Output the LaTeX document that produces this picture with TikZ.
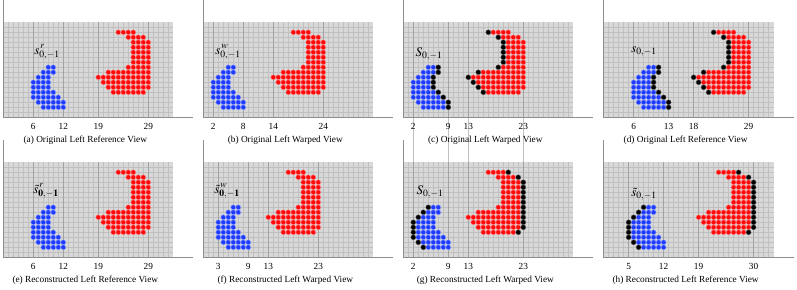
\documentclass[tikz,border=0pt]{standalone}
\usepackage{mathptmx}
\usepackage{fontspec}
\setmainfont{Liberation Serif}
\definecolor{dotblue}{HTML}{1E3CFF}
\definecolor{dotred}{HTML}{FF0A0A}
\definecolor{cellgray}{HTML}{D8D8D8}
\definecolor{gridgray}{HTML}{C0C0C0}
\definecolor{majorgray}{HTML}{A2A2A2}
\definecolor{axisgray}{HTML}{8E8E8E}

\tikzset{
  minorline/.style={gridgray,line width=.3pt},
  majorline/.style={majorgray,line width=.45pt},
  axisline/.style={axisgray,line width=.5pt},
  bluedot/.style={fill=dotblue,draw=white!55!dotblue,line width=.35pt},
  reddot/.style={fill=dotred,draw=white!55!dotred,line width=.35pt},
  holedot/.style={fill=black,draw=white!35!black,line width=.35pt},
  ticklbl/.style={font=\fontsize{9.3}{11}\selectfont,inner sep=0pt},
  caplbl/.style={font=\fontsize{9.3}{11}\selectfont,inner sep=0pt},
  setlbl/.style={font=\fontsize{13}{15}\selectfont,inner sep=0pt}
}

% rows of the two objects: row/first column/last column
\newcommand{\bluerows}{9/9/10,10/8/10,11/7/9,12/6/9,13/6/9,14/6/10,15/6/11,16/7/12,17/8/12}
\newcommand{\redrows}{2/23/26,3/25/28,4/26/29,5/26/29,6/26/29,7/26/29,8/26/29,
  9/25/29,10/21/29,11/19/29,12/20/29,13/21/29,14/22/28}

% name, x, y, blue shift, red shift, hole mode, ticks, caption
\newcommand{\viewpanel}[8]{%
  \begin{scope}[shift={(#2,#3)}]
    \fill[cellgray] (0,0) rectangle (170,95);
    \foreach \k in {1,...,33}
      \draw[minorline] (5*\k,0) -- (5*\k,95);
    \foreach \k in {1,...,18}
      \draw[minorline] (0,5*\k) -- (170,5*\k);
    \foreach \c/\t in {#7} {
      \draw[majorline] (5*\c,0) -- (5*\c,95);
      \node[ticklbl] (#1-t\c) at (5*\c,104) {\t};
    }
    \draw[axisline] (0,-22.3) -- (0,95) -- (190,95);
    \foreach \r/\a/\b in \bluerows {
      \foreach \c in {\a,...,\b}
        \filldraw[bluedot] ({5*(\c+(#4))},{5*\r}) circle (2.5pt);
      \ifcase#6\or
        \filldraw[holedot] ({5*(\b+1+(#4))},{5*\r}) circle (2.5pt);
      \or
        \filldraw[holedot] ({5*(\a-1+(#4))},{5*\r}) circle (2.5pt);
      \fi
    }
    \foreach \r/\a/\b in \redrows {
      \foreach \c in {\a,...,\b}
        \filldraw[reddot] ({5*(\c+(#5))},{5*\r}) circle (2.5pt);
      \ifcase#6\or
        \filldraw[holedot] ({5*(\a-1+(#5))},{5*\r}) circle (2.5pt);
      \or
        \filldraw[holedot] ({5*(\b+1+(#5))},{5*\r}) circle (2.5pt);
      \fi
    }
    \node[caplbl] (#1-cap) at (82,118) {#8};
  \end{scope}}

\begin{document}
\begin{tikzpicture}[x=1pt,y=-1pt]
  \useasboundingbox (0,0) rectangle (797,289);

  % tick lines of the third column run between the rows
  \foreach \c in {2,9,13,24}
    \draw[minorline] (403.3+5*\c,117.3) -- (403.3+5*\c,162.3);

  \viewpanel{a}{3.3}{22.3}{0}{0}{0}{6/6,12/12,19/19,29/29}
    {(a) Original Left Reference View}
  \viewpanel{b}{203.3}{22.3}{-4}{-5}{0}{2/2,8/8,14/14,24/24}
    {(b) Original Left Warped View}
  \viewpanel{c}{403.3}{22.3}{-4}{-5}{1}{2/2,9/9,13/13,24/23}
    {(c) Original Left Warped View}
  \viewpanel{d}{603.6}{22.3}{0}{0}{1}{6/6,13/13,18/18,29/29}
    {(d) Original Left Reference View}

  \viewpanel{e}{3.3}{162.3}{0}{0}{0}{6/6,12/12,19/19,29/29}
    {(e) Reconstructed Left Reference View}
  \viewpanel{f}{203.3}{162.3}{-3}{-6}{0}{3/3,9/9,13/13,23/23}
    {(f) Reconstructed Left Warped View}
  \viewpanel{g}{403.3}{162.3}{-3}{-6}{2}{2/2,9/9,13/13,24/23}
    {(g) Reconstructed Left Warped View}
  \viewpanel{h}{603.6}{162.3}{0}{0}{2}{5/5,12/12,19/19,30/30}
    {(h) Reconstructed Left Reference View}

  % set labels
  \node[setlbl] (a-set) at (47,52) {$\displaystyle s^{\,r}_{0,-1}$};
  \node[setlbl] (b-set) at (228,52) {$\displaystyle s^{\,w}_{0,-1}$};
  \node[setlbl] (c-set) at (429,54) {$S_{0,-1}$};
  \node[setlbl] (d-set) at (644,52) {$s_{0,-1}$};
  \node[setlbl] (e-set) at (46,191) {$\displaystyle \tilde{s}^{\,r}_{\mathbf{0,-1}}$};
  \node[setlbl] (f-set) at (227,191) {$\displaystyle \tilde{s}^{\,w}_{\mathbf{0,-1}}$};
  \node[setlbl] (g-set) at (430,192) {$S_{0,-1}$};
  \node[setlbl] (h-set) at (644,194) {$\tilde{s}_{0,-1}$};
\end{tikzpicture}
\end{document}
